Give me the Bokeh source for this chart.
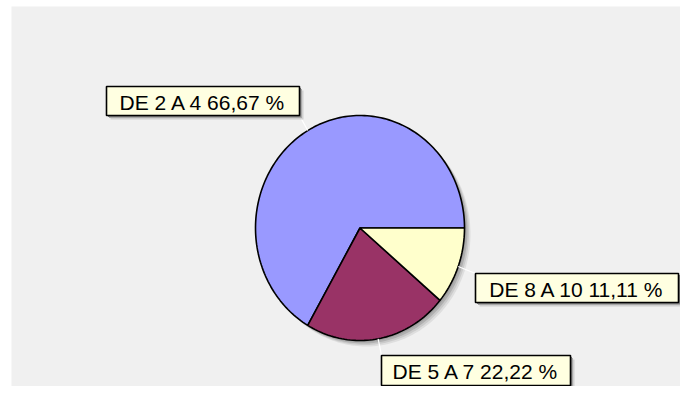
import numpy as np
from bokeh.plotting import figure
from bokeh.models import Range1d, ColumnDataSource
from bokeh.core.properties import value
from bokeh.embed import file_html
from bokeh.resources import INLINE

# ---- data ----
categories = ["DE 2 A 4", "DE 5 A 7", "DE 8 A 10"]
counts = [6, 2, 1]
slice_colors = ["#9999FF", "#993366", "#FFFFCC"]

# ---- layout (screen pixel coordinates) ----
W, H = 680, 386
CX, CY, RX, RY = 359.5, 227.5, 104.5, 112.5
# label boxes: left, right, top, bottom
label_boxes = [(106, 299, 86, 115), (381, 570, 355, 385), (475, 678, 273, 302)]

p = figure(width=W, height=H, output_backend="svg", toolbar_location=None,
           x_range=Range1d(0, W), y_range=Range1d(H, 0),
           x_axis_type=None, y_axis_type=None, min_border=0,
           background_fill_color="white", border_fill_color="white",
           outline_line_color=None)
p.grid.visible = False

# gray panel
p.quad(left=[11], right=[W], top=[6], bottom=[H], fill_color="#F0F0F0", line_color=None)

total = float(sum(counts))
fracs = [c / total for c in counts]
ends = np.cumsum(fracs) * 2 * np.pi
starts = np.concatenate([[0.0], ends[:-1]])


def ell(theta, dx=0.0, dy=0.0):
    return CX + dx + RX * np.cos(theta), CY + dy - RY * np.sin(theta)


# pie shadow
full = np.linspace(0, 2 * np.pi, 240)
for off, col in [(6, "#DEDEDE"), (4.5, "#CACACA"), (3, "#B0B0B0"), (1.5, "#A0A0A0")]:
    sx, sy = ell(full, off, off)
    p.patch(list(sx), list(sy), fill_color=col, line_color=None)

# slices
xs, ys = [], []
for a0, a1 in zip(starts, ends):
    n = max(8, int((a1 - a0) / (2 * np.pi) * 240))
    t = np.linspace(a0, a1, n)
    px, py = ell(t)
    xs.append([CX] + list(px) + [CX])
    ys.append([CY] + list(py) + [CY])
p.patches(xs, ys, fill_color=slice_colors, line_color="black", line_width=1.6)

# leader lines (white) and labels
mids = (starts + ends) / 2
for m, (l, r, t, b) in zip(mids, label_boxes):
    ex, ey = ell(m)
    bx = min(max(ex, l), r)
    by = min(max(ey, t), b)
    p.line([ex, bx], [ey, by], line_color="white", line_width=1.2)

for off, col in [(4, "#D0D0D0"), (2.5, "#A8A8A8"), (1.5, "#808080")]:
    p.quad(left=[b[0] + off for b in label_boxes], right=[b[1] + off for b in label_boxes],
           top=[b[2] + off for b in label_boxes], bottom=[b[3] + off for b in label_boxes],
           fill_color=col, line_color=None)

p.quad(left=[b[0] for b in label_boxes], right=[b[1] for b in label_boxes],
       top=[b[2] for b in label_boxes], bottom=[b[3] for b in label_boxes],
       fill_color="#FFFFE1", line_color="black", line_width=1.6)

texts = [f"{c} " + f"{f * 100:.2f}".replace(".", ",") + " %" for c, f in zip(categories, fracs)]
src = ColumnDataSource(dict(
    x=[(b[0] + b[1]) / 2 for b in label_boxes],
    y=[(b[2] + b[3]) / 2 + 1 for b in label_boxes],
    text=texts))
p.text(x="x", y="y", text="text", source=src, text_align="center", text_baseline="middle",
       text_font=value("Liberation Sans"), text_font_size="21px", text_color="black")

open("out.html", "w").write(file_html(p, INLINE))
